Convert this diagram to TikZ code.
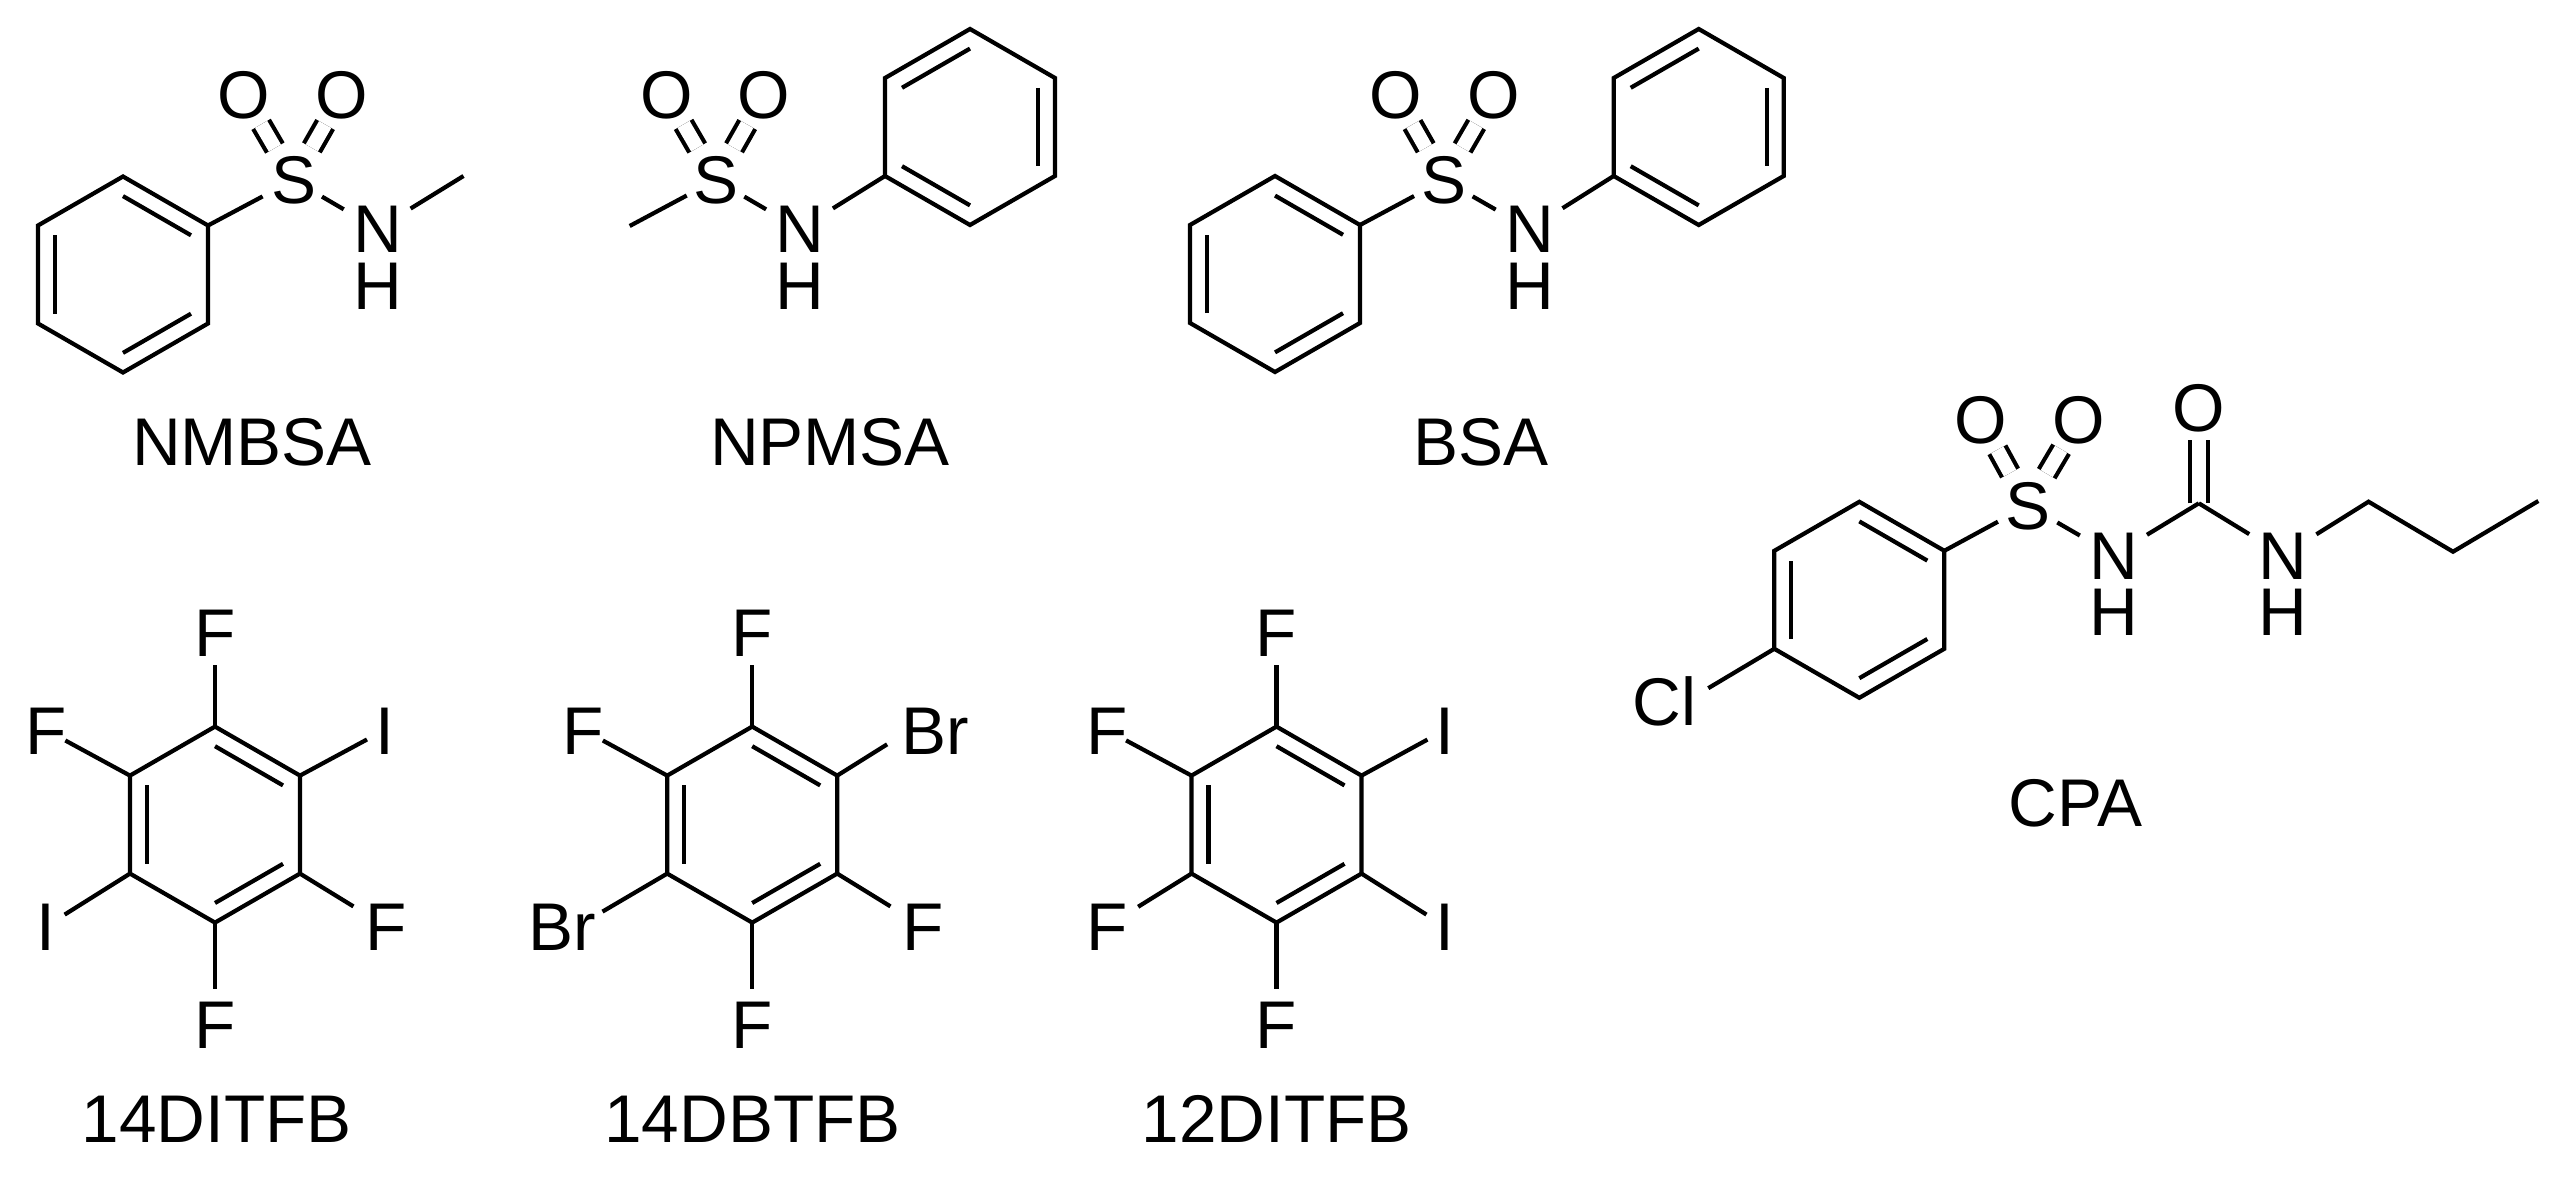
\documentclass[tikz,border=0pt]{standalone}
\usepackage{fontspec}
\setmainfont{Liberation Sans}
\usetikzlibrary{calc}
% six ring corners p1..p6 (clockwise from the top) and the inner lines
\newcommand{\benzene}[4]{
	\coordinate (#1c) at (#2,#3);
	\coordinate (#11) at (#2,#3-98);
	\coordinate (#12) at (#2+85,#3-49);
	\coordinate (#13) at (#2+85,#3+49);
	\coordinate (#14) at (#2,#3+98);
	\coordinate (#15) at (#2-85,#3+49);
	\coordinate (#16) at (#2-85,#3-49);
	\draw[bond] (#11) -- (#12) -- (#13) -- (#14) -- (#15) -- (#16) -- cycle;
	\foreach \p/\q in {#4}
		\draw[bond] ($(#1\p)!0.2!(#1c)$) -- ($(#1\q)!0.2!(#1c)$);
}
\begin{document}
\begin{tikzpicture}[x=0.1mm,y=-0.1mm]
	\tikzstyle{atom}=[inner sep=0pt,font=\fontsize{19.2}{20}\selectfont,text height=4.8mm,text depth=0pt]
	\tikzstyle{caption}=[inner sep=0pt,anchor=base,font=\fontsize{19.2}{20}\selectfont]
	\tikzstyle{bond}=[draw,line width=0.42mm]
	\tikzstyle{dbond}=[bond,double,double distance=1.4mm]
	\useasboundingbox (0,0) rectangle (2568,1186);

	% NMBSA
	\benzene{p}{123}{274.5}{1/2,3/4,5/6}
	\node [atom] (s1) at (293.5,180) {S};
	\node [atom] (o1) at (244,95) {O};
	\node [atom] (o2) at (342,95) {O};
	\node [atom] (n1) at (377.4,229) {N};
	\node [atom] (h1) at (377.4,285.5) {H};
	\coordinate (c1) at (463.5,176);
	\path[bond,shorten >=3.5mm] (p2) -- (s1.center);
	\path[dbond,shorten <=3.7mm,shorten >=3.4mm] (s1.center) -- (o1.center);
	\path[dbond,shorten <=3.7mm,shorten >=3.4mm] (s1.center) -- (o2.center);
	\path[bond,shorten <=3.3mm,shorten >=3.9mm] (s1.center) -- (n1.center);
	\path[bond,shorten <=3.9mm] (n1.center) -- (c1);
	\node [caption] (t1) at (252,466) {NMBSA};

	% NPMSA
	\benzene{q}{970}{127}{6/1,2/3,4/5}
	\node [atom] (s2) at (715.8,180) {S};
	\node [atom] (o3) at (666.5,95) {O};
	\node [atom] (o4) at (764,95) {O};
	\node [atom] (n2) at (799.8,229) {N};
	\node [atom] (h2) at (799.8,285.5) {H};
	\coordinate (c2) at (629.7,226);
	\path[bond,shorten >=3.3mm] (c2) -- (s2.center);
	\path[dbond,shorten <=3.7mm,shorten >=3.4mm] (s2.center) -- (o3.center);
	\path[dbond,shorten <=3.7mm,shorten >=3.4mm] (s2.center) -- (o4.center);
	\path[bond,shorten <=3.3mm,shorten >=3.9mm] (s2.center) -- (n2.center);
	\path[bond,shorten <=3.9mm] (n2.center) -- (q5);
	\node [caption] (t2) at (830,466) {NPMSA};

	% BSA
	\benzene{u}{1275}{274}{1/2,3/4,5/6}
	\benzene{v}{1698.7}{127}{6/1,2/3,4/5}
	\node [atom] (s3) at (1444,180) {S};
	\node [atom] (o5) at (1395.7,95) {O};
	\node [atom] (o6) at (1493.3,95) {O};
	\node [atom] (n3) at (1529.5,229) {N};
	\node [atom] (h3) at (1529.5,285.5) {H};
	\path[bond,shorten >=3.4mm] (u2) -- (s3.center);
	\path[dbond,shorten <=3.7mm,shorten >=3.4mm] (s3.center) -- (o5.center);
	\path[dbond,shorten <=3.7mm,shorten >=3.4mm] (s3.center) -- (o6.center);
	\path[bond,shorten <=3.3mm,shorten >=3.9mm] (s3.center) -- (n3.center);
	\path[bond,shorten <=3.9mm] (n3.center) -- (v5);
	\node [caption] (t3) at (1481,466) {BSA};

	% CPA
	\benzene{w}{1859.3}{599.8}{1/2,3/4,5/6}
	\node [atom] (s4) at (2027.8,505.5) {S};
	\node [atom] (o7) at (1981,420) {O};
	\node [atom] (o8) at (2078.4,420) {O};
	\node [atom] (o9) at (2198.8,407.3) {O};
	\node [atom] (n4) at (2113.6,555) {N};
	\node [atom] (h4) at (2113.6,611.7) {H};
	\node [atom] (n5) at (2283.3,555) {N};
	\node [atom] (h5) at (2283.3,611.7) {H};
	\node [atom] (cl) at (1664.8,701) {Cl};
	\coordinate (c3) at (2198.8,503.3);
	\coordinate (c4) at (2368.5,501.7);
	\coordinate (c5) at (2453,551.7);
	\coordinate (c6) at (2538.3,501);
	\path[bond,shorten >=2.5mm] (w5) -- ([xshift=2.2mm]cl.center);
	\path[bond,shorten >=3.4mm] (w2) -- (s4.center);
	\path[dbond,shorten <=3.7mm,shorten >=3.4mm] (s4.center) -- (o7.center);
	\path[dbond,shorten <=3.7mm,shorten >=3.4mm] (s4.center) -- (o8.center);
	\path[dbond,shorten >=3.3mm] (c3) -- (o9.center);
	\path[bond,shorten <=3.4mm,shorten >=3.9mm] (s4.center) -- (n4.center);
	\path[bond,shorten <=3.9mm] (n4.center) -- (c3);
	\path[bond,shorten >=4mm] (c3) -- (n5.center);
	\path[bond,shorten <=3.9mm] (n5.center) -- (c4) -- (c5) -- (c6);
	\node [caption] (t4) at (2075.3,826) {CPA};

	% 14DITFB
	\benzene{x}{215}{824.6}{1/2,3/4,5/6}
	\node [atom] (f1) at (215,632.3) {F};
	\node [atom] (f2) at (46,730) {F};
	\node [atom] (i1) at (384.6,730) {I};
	\node [atom] (i2) at (46,926.3) {I};
	\node [atom] (f3) at (385.8,926.3) {F};
	\node [atom] (f4) at (215,1024.4) {F};
	\path[bond,shorten >=3.3mm] (x1) -- (f1.center);
	\path[bond,shorten >=2.2mm] (x6) -- (f2.center);
	\path[bond,shorten >=2mm] (x2) -- (i1.center);
	\path[bond,shorten >=2.2mm] (x5) -- (i2.center);
	\path[bond,shorten >=3.8mm] (x3) -- (f3.center);
	\path[bond,shorten >=3.5mm] (x4) -- (f4.center);
	\node [caption] (t5) at (216.8,1142) {14DITFB};

	% 14DBTFB
	\benzene{y}{752.2}{824.6}{1/2,3/4,5/6}
	\node [atom] (f5) at (752.2,632.3) {F};
	\node [atom] (f6) at (583.5,730) {F};
	\node [atom] (br1) at (935.6,730) {Br};
	\node [atom] (br2) at (562.5,926.3) {Br};
	\node [atom] (f7) at (922.8,926.3) {F};
	\node [atom] (f8) at (752.2,1024.4) {F};
	\path[bond,shorten >=3.3mm] (y1) -- (f5.center);
	\path[bond,shorten >=2.2mm] (y6) -- (f6.center);
	\path[bond,shorten >=2.7mm] (y2) -- ([xshift=-2.56mm]br1.center);
	\path[bond,shorten >=2.9mm] (y5) -- ([xshift=1.5mm]br2.center);
	\path[bond,shorten >=3.8mm] (y3) -- (f7.center);
	\path[bond,shorten >=3.5mm] (y4) -- (f8.center);
	\node [caption] (t6) at (752.5,1142) {14DBTFB};

	% 12DITFB
	\benzene{z}{1276.5}{824.6}{1/2,3/4,5/6}
	\node [atom] (f9) at (1276.5,632.3) {F};
	\node [atom] (f10) at (1106.7,730) {F};
	\node [atom] (i3) at (1445,730) {I};
	\node [atom] (f11) at (1106.7,926.3) {F};
	\node [atom] (i4) at (1445,926.3) {I};
	\node [atom] (f12) at (1276.5,1024.4) {F};
	\path[bond,shorten >=3.3mm] (z1) -- (f9.center);
	\path[bond,shorten >=2.2mm] (z6) -- (f10.center);
	\path[bond,shorten >=2mm] (z2) -- (i3.center);
	\path[bond,shorten >=3.7mm] (z5) -- (f11.center);
	\path[bond,shorten >=2.2mm] (z3) -- (i4.center);
	\path[bond,shorten >=3.5mm] (z4) -- (f12.center);
	\node [caption] (t7) at (1276.7,1142) {12DITFB};
\end{tikzpicture}
\end{document}
